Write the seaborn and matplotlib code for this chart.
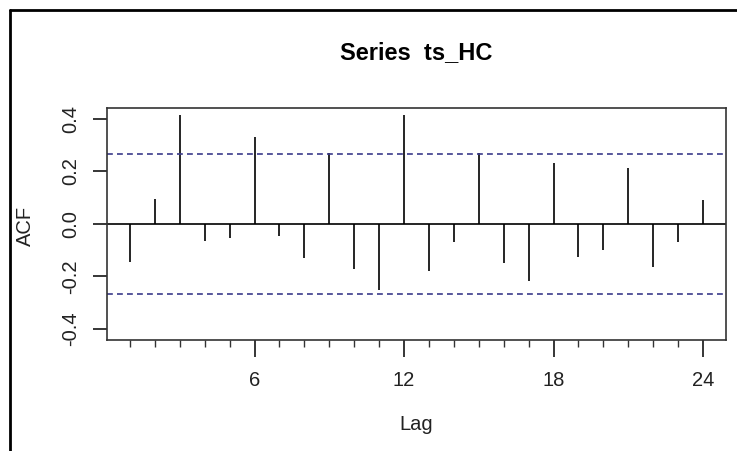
import numpy as np
import pandas as pd
import seaborn as sns
import matplotlib
matplotlib.use("Agg")
import matplotlib.pyplot as plt
from matplotlib.lines import Line2D

# ------------------- data -------------------
lags = list(range(1, 25))
acf_vals = [-0.145, 0.094, 0.414, -0.065, -0.055, 0.331, -0.045, -0.131,
            0.269, -0.171, -0.251, 0.414, -0.180, -0.070, 0.269, -0.150,
            -0.218, 0.232, -0.126, -0.098, 0.213, -0.163, -0.070, 0.093]
conf_limit = 0.267
ytick_vals = [-0.4, -0.2, 0.0, 0.2, 0.4]
ytick_labels = ["-0.4", "-0.2", "0.0", "0.2", "0.4"]
xtick_major = [6, 12, 18, 24]
title = "Series  ts_HC"

df = pd.DataFrame({"lag": lags, "acf": acf_vals})

# ------------------- style -------------------
sns.set_theme(style="white")
plt.rcParams["font.family"] = ["Liberation Sans", "DejaVu Sans"]
lab_size = 14.5

W, H = 737, 451
fig = plt.figure(figsize=(W / 100, H / 100), dpi=100)
ax = fig.add_axes([107 / W, 1 - 340 / H, (726 - 107) / W, (340 - 107.5) / H])

# spikes
ax.vlines(df["lag"], 0, df["acf"], color="black", lw=1.2)
ax.axhline(0, color="black", lw=1.2)
# confidence band
for c in (conf_limit, -conf_limit):
    ax.axhline(c, color="#3b3b8a", lw=1.2, ls=(0, (3.5, 2.5)))

ax.set_xlim(0.08, 24.92)
ax.set_ylim(-0.443, 0.444)

# x ticks: small at each lag, long at major lags
ax.set_xticks(xtick_major)
ax.set_xticklabels([str(v) for v in xtick_major])
ax.set_xticks(lags, minor=True)
ax.tick_params(axis="both", which="both", bottom=True, left=True)
ax.tick_params(axis="x", which="major", length=12, width=1.1, color="black",
               labelsize=lab_size, pad=10, labelcolor="#222222")
ax.tick_params(axis="x", which="minor", length=5, width=1.0, color="#333333")

ax.set_yticks(ytick_vals)
ax.set_yticklabels(ytick_labels, rotation=90, va="center")
ax.tick_params(axis="y", length=10, width=1.1, color="black",
               labelsize=lab_size, pad=9, labelcolor="#222222")

for s in ax.spines.values():
    s.set_visible(True)
    s.set_color("#333333")
    s.set_linewidth(1.2)

ax.set_xlabel("")
ax.set_ylabel("")

fig.text(416 / W, 1 - 53 / H, title, ha="center", va="center",
         fontsize=17, fontweight="bold", color="black")
fig.text(416 / W, 1 - 425 / H, "Lag", ha="center", va="center",
         fontsize=lab_size, color="#222222")
fig.text(25 / W, 1 - 226 / H, "ACF", ha="center", va="center",
         fontsize=lab_size, rotation=90, color="#222222")

# outer frame (left and top edges visible)
fig.add_artist(Line2D([9.5 / W, 9.5 / W], [0, 1 - 10 / H],
                      transform=fig.transFigure, color="black", lw=2))
fig.add_artist(Line2D([9.5 / W, 1], [1 - 10 / H, 1 - 10 / H],
                      transform=fig.transFigure, color="black", lw=2))

fig.savefig("out.png", dpi=100, facecolor="white")
